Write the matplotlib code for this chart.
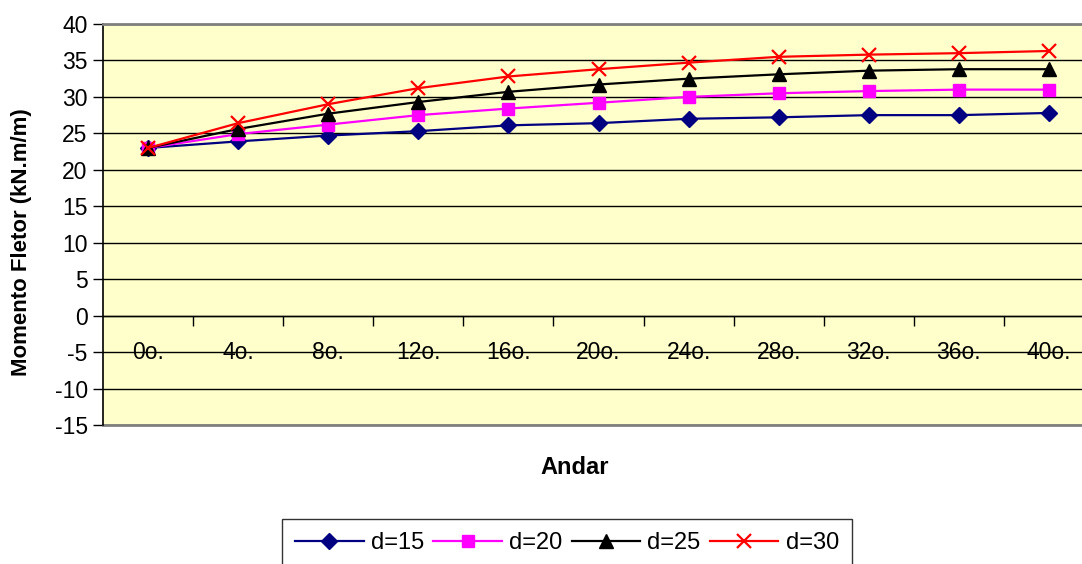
import numpy as np
import matplotlib
matplotlib.use("Agg")
import matplotlib.pyplot as plt

plt.rcParams['font.family'] = ['Liberation Sans', 'DejaVu Sans']

#------------------Data------------------------------------------------
andares = ['0o.', '4o.', '8o.', '12o.', '16o.', '20o.', '24o.', '28o.', '32o.', '36o.', '40o.']
d15 = [23.0, 23.9, 24.7, 25.3, 26.1, 26.4, 27.0, 27.2, 27.5, 27.5, 27.8]
d20 = [23.0, 24.9, 26.2, 27.5, 28.4, 29.2, 30.0, 30.5, 30.8, 31.0, 31.0]
d25 = [23.0, 25.6, 27.7, 29.3, 30.7, 31.7, 32.5, 33.1, 33.6, 33.8, 33.8]
d30 = [23.0, 26.4, 29.0, 31.2, 32.8, 33.8, 34.7, 35.5, 35.8, 36.0, 36.3]
y_ticks = list(range(-15, 41, 5))

#------------------Figure-----------------------------
W, H = 1082, 564
fig = plt.figure(figsize=(W / 100, H / 100), dpi=100)
# plot area: left 103px, top 24px, bottom 425px, extends past right edge
ax = fig.add_axes([103 / W, (H - 425) / H, 991 / W, 401 / H])
ax.set_facecolor('#FFFFCC')

x = np.arange(len(andares))
ax.plot(x, d15, color='#000080', marker='D', markersize=8, lw=1.6, label='d=15')
ax.plot(x, d20, color='#FF00FF', marker='s', markersize=8, lw=1.6, label='d=20')
ax.plot(x, d25, color='black', marker='^', markersize=9.5, lw=1.6, label='d=25')
ax.plot(x, d30, color='#FF0000', marker='x', markersize=10, mew=1.6, lw=1.6, label='d=30')

ax.set_xlim(-0.5, len(andares) - 0.5)
ax.set_ylim(-15, 40)
ax.set_yticks(y_ticks)
ax.set_yticklabels([str(v) for v in y_ticks], fontsize=16.5)
ax.yaxis.grid(True, color='black', lw=1)
ax.set_axisbelow(True)
ax.tick_params(axis='y', direction='out', length=7, width=1, pad=4)

# category axis crosses at 0 like in Excel
ax.spines['bottom'].set_position(('data', 0))
ax.spines['bottom'].set_linewidth(1)
ax.set_xticks(np.arange(0.5, len(andares) - 0.5, 1))
ax.set_xticklabels([])
ax.set_xticks(x, minor=True)
ax.set_xticklabels(andares, minor=True, fontsize=16.5)
ax.tick_params(axis='x', which='major', direction='out', length=7, width=1)
ax.tick_params(axis='x', which='minor', length=0, pad=18)

ax.spines['top'].set_color('#808080')
ax.spines['top'].set_linewidth(2)
ax.spines['right'].set_visible(False)
ax.spines['left'].set_linewidth(1.2)
ax.axhline(-15, color='#808080', lw=2, clip_on=False)

fig.text(22 / W, 1 - 242 / H, 'Momento Fletor (kN.m/m)', fontsize=16, fontweight='bold',
         rotation=90, ha='center', va='center')
fig.text(575 / W, 1 - 467 / H, 'Andar', fontsize=17, fontweight='bold', ha='center', va='center')

leg = fig.legend(loc='upper center', bbox_to_anchor=(567 / W, 1 - 519 / H), ncol=4,
                 fontsize=17, frameon=True, fancybox=False, edgecolor='black',
                 handlelength=2.9, handletextpad=0.3, columnspacing=0.4,
                 borderpad=0.55, borderaxespad=0)
leg.get_frame().set_linewidth(1)

fig.savefig('out.png', dpi=100)
